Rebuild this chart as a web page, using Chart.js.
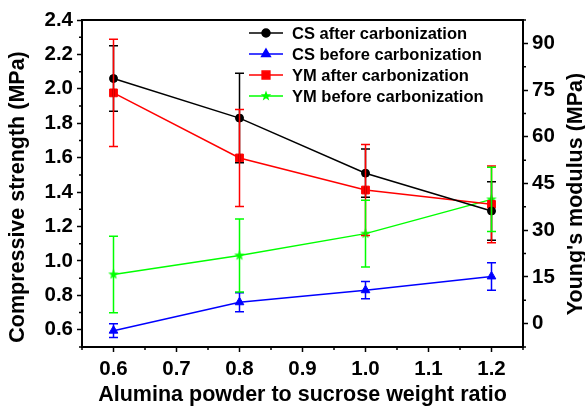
<!DOCTYPE html>
<html>
<head>
<meta charset="utf-8">
<script src="https://cdn.jsdelivr.net/npm/chart.js@4"></script>
<style>
  html, body { margin: 0; padding: 0; background: #fff; }
  #wrap { width: 585px; height: 406px; }
</style>
</head>
<body>
<div id="wrap"><canvas id="chart" width="585" height="406"></canvas></div>
<script>
const xValues = [0.6, 0.8, 1.0, 1.2];

// compressive strength, left axis (MPa)
const csAfter = [2.06, 1.83, 1.51, 1.29];
const csAfterErr = [0.19, 0.26, 0.14, 0.17];
const csBefore = [0.595, 0.76, 0.83, 0.91];
const csBeforeErr = [0.04, 0.055, 0.05, 0.08];

// Young's modulus, right axis (MPa)
const ymAfter = [74.1, 53.2, 42.9, 38.3];
const ymAfterErr = [17.2, 15.6, 14.6, 12.3];
const ymBefore = [15.8, 21.9, 28.9, 39.9];
const ymBeforeErr = [12.3, 11.7, 10.7, 10.3];

const xTicks = [0.6, 0.7, 0.8, 0.9, 1.0, 1.1, 1.2];
const leftTicks = [0.6, 0.8, 1.0, 1.2, 1.4, 1.6, 1.8, 2.0, 2.2, 2.4];
const rightTicks = [0, 15, 30, 45, 60, 75, 90];

const FONT = "'Liberation Sans', Arial, sans-serif";

function starImage(color) {
  const c = document.createElement('canvas');
  c.width = 12; c.height = 12;
  const g = c.getContext('2d');
  g.beginPath();
  for (let i = 0; i < 10; i++) {
    const r = i % 2 === 0 ? 5.5 : 2.3;
    const a = -Math.PI / 2 + i * Math.PI / 5;
    const px = 6 + r * Math.cos(a), py = 6 + r * Math.sin(a);
    if (i === 0) g.moveTo(px, py); else g.lineTo(px, py);
  }
  g.closePath();
  g.fillStyle = color;
  g.fill();
  return c;
}
const star = starImage('#00ff00');

function pts(ys) {
  return ys.map((y, i) => ({ x: xValues[i], y: y }));
}

function series(label, ys, errs, color, style, radius, axis) {
  return {
    label: label,
    data: pts(ys),
    errors: errs,
    yAxisID: axis,
    borderColor: color,
    backgroundColor: color,
    borderWidth: 1.5,
    pointStyle: style,
    pointRadius: radius,
    pointBorderWidth: 1,
    tension: 0
  };
}

const errorBars = {
  id: 'errorBars',
  afterDatasetsDraw(chart) {
    const ctx = chart.ctx;
    const xs = chart.scales.x;
    chart.data.datasets.forEach(ds => {
      const ys = chart.scales[ds.yAxisID];
      ctx.save();
      ctx.strokeStyle = ds.borderColor;
      ctx.lineWidth = 1.5;
      ds.data.forEach((p, j) => {
        const e = ds.errors[j];
        const px = xs.getPixelForValue(p.x);
        const top = ys.getPixelForValue(p.y + e);
        const bot = ys.getPixelForValue(p.y - e);
        ctx.beginPath();
        ctx.moveTo(px, top); ctx.lineTo(px, bot);
        ctx.moveTo(px - 4.5, top); ctx.lineTo(px + 4.5, top);
        ctx.moveTo(px - 4.5, bot); ctx.lineTo(px + 4.5, bot);
        ctx.stroke();
      });
      ctx.restore();
    });
  }
};

const frame = {
  id: 'frame',
  afterDraw(chart) {
    const ctx = chart.ctx;
    const a = chart.chartArea;
    const xs = chart.scales.x, yl = chart.scales.y, yr = chart.scales.y1;
    ctx.save();
    ctx.strokeStyle = '#000';
    ctx.lineWidth = 2;
    ctx.strokeRect(a.left, a.top, a.right - a.left, a.bottom - a.top);

    // minor ticks
    ctx.lineWidth = 1.5;
    ctx.beginPath();
    for (let v = 0.55; v < 1.26; v += 0.1) {
      const px = xs.getPixelForValue(v);
      ctx.moveTo(px, a.bottom); ctx.lineTo(px, a.bottom + 3);
    }
    for (let v = 0.5; v < 2.45; v += 0.2) {
      const py = yl.getPixelForValue(v);
      ctx.moveTo(a.left, py); ctx.lineTo(a.left - 3, py);
    }
    for (let v = -7.5; v < 98; v += 15) {
      const py = yr.getPixelForValue(v);
      ctx.moveTo(a.right, py); ctx.lineTo(a.right + 3, py);
    }
    ctx.stroke();

    // axis titles
    ctx.fillStyle = '#000';
    ctx.font = 'bold 21.5px ' + FONT;
    ctx.textAlign = 'center';
    ctx.textBaseline = 'middle';
    ctx.fillText('Alumina powder to sucrose weight ratio', (a.left + a.right) / 2, 395);
    ctx.save();
    ctx.translate(18, 197);
    ctx.rotate(-Math.PI / 2);
    ctx.fillText('Compressive strength (MPa)', 0, 0);
    ctx.restore();
    ctx.save();
    ctx.translate(576, 194);
    ctx.rotate(-Math.PI / 2);
    ctx.fillText("Young's modulus (MPa)", 0, 0);
    ctx.restore();

    // legend
    const rows = [33, 54, 75, 96];
    ctx.font = 'bold 16.5px ' + FONT;
    ctx.textAlign = 'left';
    chart.data.datasets.forEach((ds, i) => {
      const y = rows[i];
      ctx.strokeStyle = ds.borderColor;
      ctx.lineWidth = 1.5;
      ctx.beginPath();
      ctx.moveTo(249, y); ctx.lineTo(283, y);
      ctx.stroke();
      ctx.fillStyle = ds.backgroundColor;
      Chart.helpers.drawPoint(ctx, {
        pointStyle: ds.pointStyle, radius: ds.pointRadius, borderWidth: 1, rotation: 0
      }, 266, y);
      ctx.fillStyle = '#000';
      ctx.fillText(ds.label, 292, y + 1);
    });
    ctx.restore();
  }
};

const tickFont = { family: FONT, size: 20.5, weight: 'bold' };

new Chart(document.getElementById('chart'), {
  type: 'line',
  data: {
    datasets: [
      series('CS after carbonization', csAfter, csAfterErr, '#000000', 'circle', 4, 'y'),
      series('CS before carbonization', csBefore, csBeforeErr, '#0000ff', 'triangle', 5, 'y'),
      series('YM after carbonization', ymAfter, ymAfterErr, '#ff0000', 'rect', 5.5, 'y1'),
      series('YM before carbonization', ymBefore, ymBeforeErr, '#00ff00', star, 6, 'y1')
    ]
  },
  options: {
    responsive: false,
    animation: false,
    layout: { padding: { top: 20, left: 0, right: 0, bottom: 0 } },
    plugins: { legend: { display: false }, tooltip: { enabled: false } },
    scales: {
      x: {
        type: 'linear',
        min: 0.55, max: 1.25,
        afterBuildTicks: s => { s.ticks = xTicks.map(v => ({ value: v })); },
        afterFit: s => { s.height = 59; },
        grid: { drawOnChartArea: false, tickLength: 5, tickWidth: 1.5, tickColor: '#000' },
        border: { display: false },
        ticks: {
          color: '#000', padding: 5,
          font: tickFont,
          maxRotation: 0,
          callback: v => v.toFixed(1)
        }
      },
      y: {
        position: 'left',
        min: 0.5, max: 2.4,
        afterBuildTicks: s => { s.ticks = leftTicks.map(v => ({ value: v })); },
        afterFit: s => { s.width = 82; },
        grid: { drawOnChartArea: false, tickLength: 5, tickWidth: 1.5, tickColor: '#000' },
        border: { display: false },
        ticks: {
          color: '#000', padding: 4,
          font: tickFont,
          callback: v => v.toFixed(1)
        }
      },
      y1: {
        position: 'right',
        min: -7.5, max: 97.5,
        afterBuildTicks: s => { s.ticks = rightTicks.map(v => ({ value: v })); },
        afterFit: s => { s.width = 62; },
        grid: { drawOnChartArea: false, tickLength: 5, tickWidth: 1.5, tickColor: '#000' },
        border: { display: false },
        ticks: {
          color: '#000', padding: 4,
          font: tickFont
        }
      }
    }
  },
  plugins: [errorBars, frame]
});
</script>
</body>
</html>
